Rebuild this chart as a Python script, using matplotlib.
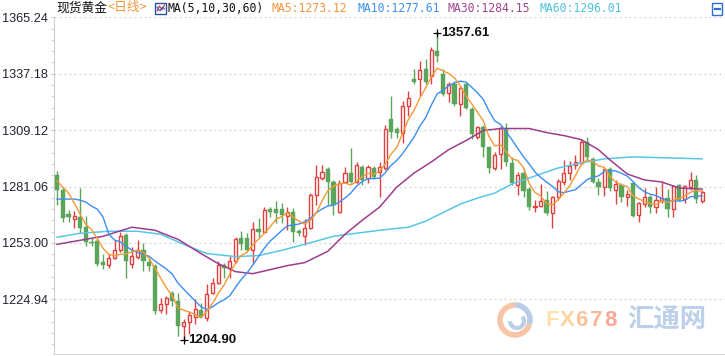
import numpy as np
import pandas as pd
import matplotlib
matplotlib.use("Agg")
import matplotlib.pyplot as plt
from matplotlib.patches import Rectangle, Arc
from matplotlib.lines import Line2D
from matplotlib.ticker import FixedLocator

# ---------------- data ----------------
opens = [1286.8,1279.3,1267.3,1264.8,1265.8,1260.8,1253.3,1253.8,1243.7,1242.2,
         1245.7,1249.3,1256.8,1242.7,1246.2,1249.3,1243.7,1241.7,1219.7,1222.7,
         1228.2,1224.2,1211.7,1213.7,1216.2,1219.7,1215.7,1228.2,1233.2,1242.2,
         1240.7,1244.2,1255.3,1255.3,1249.3,1259.8,1258.3,1269.8,1269.8,1269.8,
         1266.3,1268.3,1258.8,1256.3,1260.3,1276.8,1285.3,1289.8,1283.3,1268.3,
         1283.3,1287.8,1283.3,1290.8,1285.3,1290.3,1288.3,1290.3,1314.4,1309.9,
         1307.9,1320.9,1334.4,1334.4,1339.4,1335.9,1348.4,1336.9,1327.4,1331.9,
         1321.9,1331.9,1319.4,1305.9,1310.9,1300.9,1290.3,1297.3,1310.4,1292.8,
         1281.8,1287.8,1279.8,1270.8,1271.3,1274.3,1267.8,1275.8,1283.3,1287.8,
         1291.8,1292.8,1303.4,1294.8,1283.3,1280.8,1289.8,1279.3,1281.8,1275.8,
         1282.8,1266.8,1272.3,1275.8,1270.8,1273.8,1275.3,1269.8,1281.8,1274.8,
         1280.8,1284.3,1273.8]
highs = [1288.8,1280.8,1269.3,1268.8,1280.3,1266.3,1255.3,1255.3,1247.7,1247.7,
         1254.3,1258.3,1257.8,1250.8,1254.3,1252.8,1245.7,1242.7,1225.7,1226.7,
         1229.2,1228.2,1215.2,1219.2,1225.2,1223.2,1232.7,1235.7,1244.2,1243.2,
         1246.7,1255.8,1258.8,1257.8,1263.3,1265.3,1270.8,1270.8,1273.8,1272.8,
         1270.8,1270.3,1259.8,1264.8,1277.8,1291.8,1291.8,1290.8,1284.3,1284.3,
         1290.8,1300.3,1293.3,1291.8,1291.8,1291.3,1293.3,1311.9,1325.9,1310.9,
         1323.4,1328.4,1339.4,1343.4,1344.4,1350.5,1357.61,1339.4,1332.9,1333.4,
         1330.9,1332.9,1320.4,1311.4,1311.9,1300.9,1298.3,1311.4,1312.9,1295.8,
         1288.3,1290.3,1280.8,1274.3,1282.3,1278.8,1276.3,1284.8,1294.3,1293.8,
         1296.8,1304.9,1305.9,1295.8,1285.3,1290.3,1290.8,1284.3,1282.8,1279.3,
         1283.3,1273.3,1280.3,1276.8,1280.8,1283.3,1279.8,1281.8,1282.3,1281.8,
         1288.3,1286.8,1279.3]
lows = [1271.8,1263.3,1263.3,1260.3,1257.8,1251.3,1251.3,1241.7,1240.2,1240.7,
        1245.2,1248.3,1235.7,1240.7,1245.2,1239.2,1239.2,1217.7,1218.2,1217.7,
        1221.7,1206.7,1204.90,1207.7,1212.7,1215.7,1214.2,1227.7,1232.7,1235.7,
        1235.7,1243.2,1249.3,1248.7,1243.2,1255.8,1257.8,1265.8,1262.8,1262.8,
        1259.3,1253.3,1256.3,1251.8,1259.8,1271.8,1284.3,1271.8,1266.8,1267.8,
        1282.8,1282.8,1282.8,1281.8,1282.8,1284.8,1275.8,1289.3,1305.4,1305.4,
        1302.9,1315.9,1331.9,1325.9,1331.9,1331.9,1342.9,1325.9,1322.9,1320.9,
        1315.9,1319.4,1304.9,1304.9,1295.8,1287.8,1289.3,1289.8,1291.3,1281.8,
        1276.8,1275.8,1269.3,1268.3,1270.8,1266.8,1260.3,1274.3,1281.8,1284.3,
        1289.8,1291.8,1294.3,1282.8,1276.8,1276.3,1278.8,1272.3,1273.3,1271.3,
        1265.8,1263.3,1270.8,1267.8,1267.8,1272.8,1265.8,1265.8,1273.8,1272.8,
        1279.3,1272.8,1272.8]
closes = [1279.3,1265.3,1265.8,1266.3,1260.3,1253.3,1252.8,1242.7,1242.2,1245.7,
          1249.7,1256.3,1244.2,1246.7,1249.7,1244.2,1241.7,1219.2,1222.7,1225.7,
          1224.2,1211.7,1213.7,1217.2,1220.2,1216.2,1227.7,1233.2,1242.2,1240.7,
          1244.2,1254.8,1252.3,1249.3,1259.8,1258.3,1269.3,1268.3,1267.8,1266.8,
          1268.3,1258.3,1257.8,1260.3,1276.8,1285.8,1288.3,1283.3,1271.8,1282.8,
          1287.8,1283.3,1291.8,1284.3,1290.8,1285.8,1290.8,1309.9,1308.4,1307.9,
          1320.9,1324.9,1332.9,1338.9,1332.9,1348.9,1345.9,1326.9,1331.9,1321.9,
          1329.9,1319.9,1307.4,1310.9,1300.9,1290.3,1296.8,1310.4,1293.3,1282.8,
          1286.8,1278.8,1270.8,1271.3,1273.8,1267.8,1275.8,1283.8,1287.8,1291.3,
          1293.3,1303.4,1295.8,1283.3,1280.8,1289.8,1280.3,1282.3,1275.8,1277.3,
          1266.3,1272.8,1275.8,1270.8,1274.3,1275.3,1269.8,1281.3,1274.3,1281.3,
          1284.3,1274.8,1278.3]

# moving averages at the start of the window (history lies off-chart)
ma5_head = [1283.8, 1280.8, 1277.8, 1272.8]
ma10_head = [1274.8, 1274.8, 1274.8, 1274.8, 1274.3, 1273.3, 1271.3, 1269.8, 1265.8]

# MA30 / MA60 at sample candles (1-based candle number)
ma30_idx = [1, 5, 9, 14, 18, 22, 26, 29, 32, 35, 38, 41, 44, 48, 51, 54, 57, 60, 63,
            66, 69, 72, 75, 78, 83, 86, 89, 92, 95, 97, 100, 103, 106, 109, 113]
ma30_val = [1252.3, 1254.3, 1256.3, 1260.8, 1259.3, 1254.8, 1247.7, 1242.7, 1238.7,
            1237.7, 1239.7, 1241.7, 1243.2, 1248.8, 1257.3, 1264.3, 1270.8, 1280.8,
            1287.8, 1293.3, 1299.4, 1303.9, 1308.9, 1309.9, 1309.9, 1307.9, 1306.4,
            1304.4, 1299.4, 1294.3, 1287.3, 1284.3, 1283.3, 1280.3, 1279.8]
ma60_idx = [1, 5, 10, 15, 19, 23, 27, 32, 36, 40, 44, 49, 57, 62, 65, 71, 74, 77, 80,
            84, 88, 92, 96, 101, 107, 113]
ma60_val = [1255.8, 1257.8, 1258.8, 1258.8, 1257.3, 1252.3, 1247.7, 1246.2, 1246.7,
            1249.3, 1252.3, 1256.3, 1259.3, 1260.8, 1263.8, 1272.3, 1275.3, 1277.8,
            1282.3, 1286.3, 1290.3, 1292.8, 1294.8, 1295.8, 1295.3, 1294.8]

y_ticks = [1224.94, 1253.00, 1281.06, 1309.12, 1337.18, 1365.24]

title_name = "现货黄金"
title_period = "<日线>"
title_ma = "MA(5,10,30,60)"
ma_labels = ["MA5:1273.12", "MA10:1277.61", "MA30:1284.15", "MA60:1296.01"]
wm_latin = "FX678"
wm_cjk = "汇通网"

# ---------------- styles ----------------
UP = "#e0413f"
DOWN = "#5ba65b"
C_MA5 = "#f39a36"
C_MA10 = "#3d8ef2"
C_MA30 = "#9c3e8e"
C_MA60 = "#58c6e6"
HDR_COLORS = ["#f0963c", "#3f90f0", "#a0448f", "#50c2df"]

W, H = 725, 356
fig = plt.figure(figsize=(W / 100, H / 100), dpi=100)
fig.patch.set_facecolor("white")

ax_left, ax_right, ax_top, ax_bot = 53.5, 725, 17.3, 354
ax = fig.add_axes([ax_left / W, (H - ax_bot) / H, (ax_right - ax_left) / W, (ax_bot - ax_top) / H])

n = len(closes)
x = np.arange(n)
o = np.array(opens); c = np.array(closes); h = np.array(highs); l = np.array(lows)
up = c >= o

# wicks
ax.vlines(x[up], l[up], h[up], color=UP, lw=1, zorder=2)
ax.vlines(x[~up], l[~up], h[~up], color=DOWN, lw=1, zorder=2)
# bodies
body_lo = np.minimum(o, c)
body_h = np.maximum(np.abs(c - o), 0.4)
ax.bar(x[up], body_h[up], bottom=body_lo[up], width=0.56, facecolor="white",
       edgecolor=UP, linewidth=1.0, zorder=3)
ax.bar(x[~up], body_h[~up], bottom=body_lo[~up], width=0.74, facecolor=DOWN,
       edgecolor=DOWN, linewidth=0.3, zorder=3)

# moving averages
s = pd.Series(closes)
ma5 = s.rolling(5).mean().to_numpy()
ma5[:len(ma5_head)] = ma5_head
ma10 = s.rolling(10).mean().to_numpy()
ma10[:len(ma10_head)] = ma10_head
ax.plot(np.array(ma60_idx) - 1, ma60_val, color=C_MA60, lw=1.1, zorder=4)
ax.plot(np.array(ma30_idx) - 1, ma30_val, color=C_MA30, lw=1.1, zorder=4)
ax.plot(x, ma10, color=C_MA10, lw=1.0, zorder=5)
ax.plot(x, ma5, color=C_MA5, lw=1.0, zorder=6)

# high / low markers
ih = int(np.argmax(h)); il = int(np.argmin(l))
for idx, val in ((ih, h[ih]), (il, l[il])):
    ax.plot([idx], [val], marker="+", color="black", ms=6, mew=0.9, zorder=7)
    ax.annotate(f"{val:.2f}", (idx, val), xytext=(3.2, 0), textcoords="offset points",
                ha="left", va="center", fontsize=9.5, fontweight="bold",
                family="Liberation Sans", color="#111111", zorder=7)

# axes
ax.set_xlim((ax_left - 57) / 5.76, (ax_right - 57) / 5.76)
ax.set_ylim(1365.24 - (ax_bot - ax_top) * 0.4975, 1365.24)
ax.set_yticks(y_ticks)
ax.set_yticklabels([f"{t:.2f}" for t in y_ticks], family="Liberation Sans",
                   fontsize=9.2, color="#222233")
ax.yaxis.set_minor_locator(FixedLocator(list(np.arange(1224.94 - 5 * 5.612, 1366, 5.612))))
ax.tick_params(axis="y", which="major", length=2.5, color="#c8c8c8", pad=1.5)
ax.tick_params(axis="y", which="minor", length=2, color="#c8c8c8")
ax.set_xticks([])
ax.grid(axis="y", linestyle=(0, (1.5, 2.5)), color="#d2d2d2", lw=0.9, zorder=0)
for sp in ("top", "right"):
    ax.spines[sp].set_visible(False)
ax.spines["left"].set_color("#cccccc")
ax.spines["bottom"].set_color("#d6d6d6")

# ---------------- header ----------------
def px(xp, yp):
    return xp / W, 1 - yp / H

cjk = ["Noto Sans CJK SC", "DejaVu Sans"]
fig.text(*px(56.5, 8), title_name, family=cjk, fontsize=9.2, color="#111111", va="center", ha="left")
fig.text(*px(108, 8), title_period, family=cjk, fontsize=9.2, color="#f0963c", va="center", ha="left")
# small MA icon
fig.patches.append(Rectangle(px(155, 14), 11 / W, 11 / H, transform=fig.transFigure,
                             facecolor="white", edgecolor="#2f4fa8", lw=1))
fig.lines.append(Line2D([157 / W, 159.5 / W, 162 / W, 164.5 / W],
                        [1 - 11 / H, 1 - 6 / H, 1 - 10 / H, 1 - 5 / H],
                        transform=fig.transFigure, color="#d03030", lw=0.8))
fig.lines.append(Line2D([157 / W, 160 / W, 162.5 / W, 164.5 / W],
                        [1 - 7 / H, 1 - 11 / H, 1 - 7 / H, 1 - 9 / H],
                        transform=fig.transFigure, color="#3060d0", lw=0.8))
mono = "DejaVu Sans Mono"
fig.text(*px(168, 8), title_ma, family=mono, fontsize=8.3, color="#111111", va="center", ha="left")
for xp, txt, col in zip([272, 357, 447, 539], ma_labels, HDR_COLORS):
    fig.text(*px(xp, 8), txt, family=mono, fontsize=8.3, color=col, va="center", ha="left")
# right-top icon
fig.patches.append(Rectangle(px(712, 15), 10 / W, 12 / H, transform=fig.transFigure,
                             facecolor="white", edgecolor="#2a70d0", lw=1))
fig.lines.append(Line2D([715 / W, 720 / W], [1 - 9 / H, 1 - 9 / H], transform=fig.transFigure,
                        color="#2a70d0", lw=1.6))

# ---------------- watermark ----------------
fig.patches.append(Arc(px(515, 320), 30 / W, 30 / H, theta1=90, theta2=330,
                       transform=fig.transFigure, color="#f7c6a6", lw=4))
fig.patches.append(Arc(px(515, 320), 30 / W, 30 / H, theta1=-30, theta2=90,
                       transform=fig.transFigure, color="#b9cde8", lw=4))
fig.patches.append(Arc(px(517, 321), 14 / W, 14 / H, theta1=180, theta2=420,
                       transform=fig.transFigure, color="#bccfe9", lw=3))
wm_cols = ["#fde3a8", "#fdd39e", "#fcc39a", "#fbb497", "#f9a894"]
for k, (ch, col) in enumerate(zip(wm_latin, wm_cols)):
    fig.text(*px(552.5 + k * 14.6, 321), ch, family="Liberation Sans", fontweight="bold",
             fontsize=16, color=col, ha="center", va="center")
fig.text(*px(667, 320), wm_cjk, family=cjk, fontweight="bold", fontsize=19,
         color="#bdd0ea", ha="center", va="center")

fig.savefig("out.png", dpi=100, facecolor="white")
